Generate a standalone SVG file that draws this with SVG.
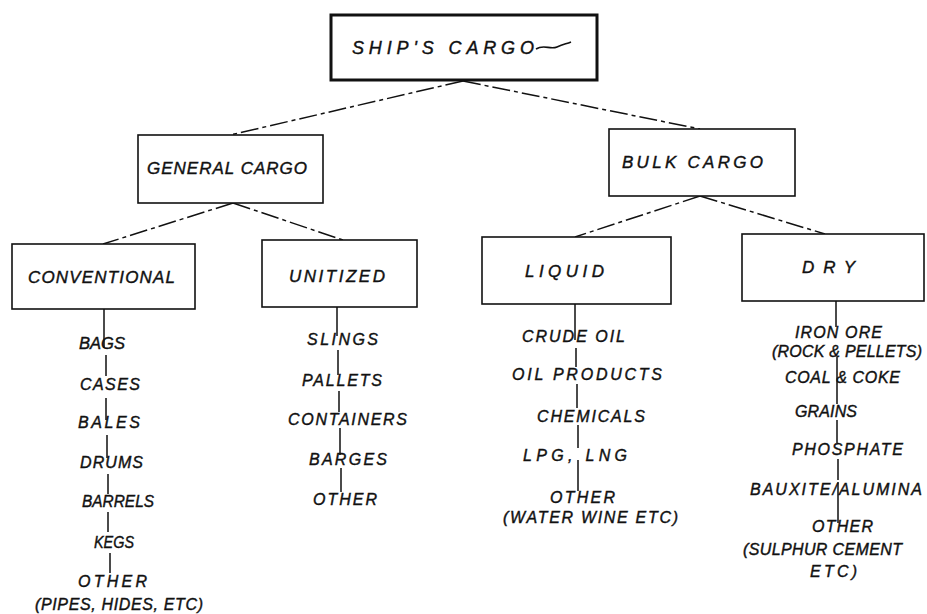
<svg xmlns="http://www.w3.org/2000/svg" width="927" height="614" viewBox="0 0 927 614">
  <style>
    .box{fill:#fff;stroke:#111;stroke-width:1.6}
    .root{stroke-width:3}
    .lbl{font-family:"Liberation Sans",Arial,sans-serif;font-style:italic;font-size:16px;fill:#111;stroke:#111;stroke-width:0.4}
    .head{font-size:17px}
    .title{font-size:18px}
    .link{stroke:#111;stroke-width:1.5;fill:none;stroke-dasharray:18 4 4 4}
    .stem{stroke:#111;stroke-width:1.5;fill:none}
  </style>
  <rect width="927" height="614" fill="#fff"/>

  <!-- tree links between the category boxes -->
  <g id="connectors">
    <path class="link" d="M463 81 L230 135"/>
    <path class="link" d="M463 81 L700 129"/>
    <path class="link" d="M233 203 L103 244"/>
    <path class="link" d="M233 203 L343 240"/>
    <path class="link" d="M700 196 L575 237"/>
    <path class="link" d="M700 196 L825 234"/>
    <!-- vertical stems running down each item list -->
    <path class="stem" d="M104 309 V348 M106 355 V376 M106 398 V420 M107 435 V458 M108 474 V494 M108 512 V532 M110 553 V573"/>
    <path class="stem" d="M337 307 V336 M338 350 V375 M339 391 V412 M340 428 V455 M341 468 V492"/>
    <path class="stem" d="M575 304 V340 M576 348 V367 M577 384 V408 M578 425 V448 M578 460 V491"/>
    <path class="stem" d="M836 301 V327 M837 357 V404 M837 420 V443 M838 459 V480 M838 482 V523"/>
  </g>

  <g id="ships-cargo">
    <rect class="box root" x="331" y="15" width="266" height="65"/>
    <text class="lbl title" x="352" y="54" textLength="182" lengthAdjust="spacing">SHIP'S CARGO</text>
    <path d="M536 49 C544 44 550 50 557 47 S566 44 571 42" fill="none" stroke="#111" stroke-width="1.6"/>
  </g>

  <g id="general-cargo">
    <rect class="box" x="138" y="135" width="185" height="68"/>
    <text class="lbl head" x="147" y="174" textLength="160" lengthAdjust="spacing">GENERAL CARGO</text>
  </g>

  <g id="bulk-cargo">
    <rect class="box" x="609" y="129" width="186" height="67"/>
    <text class="lbl head" x="622" y="168" textLength="141" lengthAdjust="spacing">BULK CARGO</text>
  </g>

  <g id="conventional">
    <rect class="box" x="12" y="244" width="183" height="65"/>
    <text class="lbl head" x="28" y="283" textLength="147" lengthAdjust="spacing">CONVENTIONAL</text>
  </g>

  <g id="unitized">
    <rect class="box" x="262" y="240" width="155" height="67"/>
    <text class="lbl head" x="289" y="282" textLength="96" lengthAdjust="spacing">UNITIZED</text>
  </g>

  <g id="liquid">
    <rect class="box" x="482" y="237" width="189" height="67"/>
    <text class="lbl head" x="525" y="277" textLength="79" lengthAdjust="spacing">LIQUID</text>
  </g>

  <g id="dry">
    <rect class="box" x="742" y="234" width="182" height="67"/>
    <text class="lbl head" x="802" y="273" textLength="53" lengthAdjust="spacing">DRY</text>
  </g>

  <g id="conventional-items" class="lbl">
    <text x="79" y="349" textLength="46" lengthAdjust="spacingAndGlyphs">BAGS</text>
    <text x="80" y="390" textLength="60" lengthAdjust="spacing">CASES</text>
    <text x="78" y="428" textLength="62" lengthAdjust="spacing">BALES</text>
    <text x="80" y="468" textLength="63" lengthAdjust="spacing">DRUMS</text>
    <text x="82" y="507" textLength="72" lengthAdjust="spacingAndGlyphs">BARRELS</text>
    <text x="94" y="548" textLength="40" lengthAdjust="spacingAndGlyphs">KEGS</text>
    <text x="78" y="587" textLength="69" lengthAdjust="spacing">OTHER</text>
    <text x="35" y="610" textLength="168" lengthAdjust="spacing">(PIPES, HIDES, ETC)</text>
  </g>

  <g id="unitized-items" class="lbl">
    <text x="307" y="345" textLength="71" lengthAdjust="spacing">SLINGS</text>
    <text x="302" y="386" textLength="80" lengthAdjust="spacing">PALLETS</text>
    <text x="288" y="425" textLength="119" lengthAdjust="spacing">CONTAINERS</text>
    <text x="309" y="465" textLength="78" lengthAdjust="spacing">BARGES</text>
    <text x="313" y="505" textLength="64" lengthAdjust="spacing">OTHER</text>
  </g>

  <g id="liquid-items" class="lbl">
    <text x="522" y="342" textLength="103" lengthAdjust="spacing">CRUDE OIL</text>
    <text x="512" y="380" textLength="150" lengthAdjust="spacing">OIL PRODUCTS</text>
    <text x="537" y="422" textLength="108" lengthAdjust="spacing">CHEMICALS</text>
    <text x="523" y="461" textLength="104" lengthAdjust="spacing">LPG, LNG</text>
    <text x="550" y="503" textLength="65" lengthAdjust="spacing">OTHER</text>
    <text x="503" y="523" textLength="175" lengthAdjust="spacing">(WATER WINE ETC)</text>
  </g>

  <g id="dry-items" class="lbl">
    <text x="795" y="338" textLength="87" lengthAdjust="spacing">IRON ORE</text>
    <text x="772" y="357" textLength="150" lengthAdjust="spacing">(ROCK &amp; PELLETS)</text>
    <text x="785" y="383" textLength="115" lengthAdjust="spacing">COAL &amp; COKE</text>
    <text x="795" y="417" textLength="62" lengthAdjust="spacing">GRAINS</text>
    <text x="792" y="455" textLength="111" lengthAdjust="spacing">PHOSPHATE</text>
    <text x="750" y="495" textLength="172" lengthAdjust="spacing">BAUXITE/ALUMINA</text>
    <text x="812" y="532" textLength="61" lengthAdjust="spacing">OTHER</text>
    <text x="743" y="555" textLength="159" lengthAdjust="spacing">(SULPHUR CEMENT</text>
    <text x="810" y="577" textLength="47" lengthAdjust="spacing">ETC)</text>
  </g>
</svg>
